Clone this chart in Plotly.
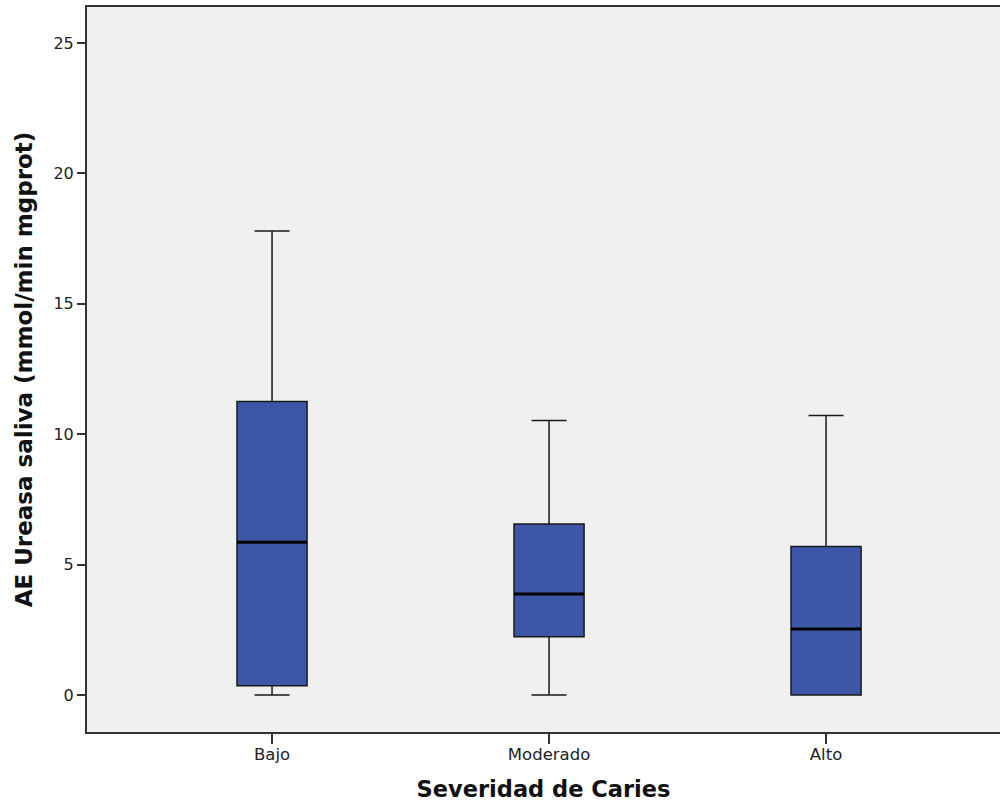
import plotly.graph_objects as go

# Summary statistics per caries severity group
categorias = ["Bajo", "Moderado", "Alto"]
minimo = [0.0, 0.0, 0.0]
q1 = [0.35, 2.23, 0.0]
mediana = [5.86, 3.87, 2.53]
q3 = [11.25, 6.56, 5.69]
maximo = [17.79, 10.52, 10.72]

y_ticks = [0, 5, 10, 15, 20, 25]

posiciones = list(range(len(categorias)))
ancho_caja = 0.253

fig = go.Figure()

fig.add_trace(go.Box(
    x=posiciones,
    q1=q1,
    median=mediana,
    q3=q3,
    lowerfence=minimo,
    upperfence=maximo,
    width=ancho_caja,
    whiskerwidth=0.5,
    fillcolor="rgb(61,86,168)",
    line=dict(color="#1a1a1a", width=1.5),
    boxpoints=False,
    hoverinfo="skip",
    showlegend=False,
))

# Thicker median bars, drawn over each box
xs, ys = [], []
for p, m in zip(posiciones, mediana):
    xs += [p - ancho_caja / 2, p + ancho_caja / 2, None]
    ys += [m, m, None]
fig.add_trace(go.Scatter(
    x=xs, y=ys, mode="lines",
    line=dict(color="black", width=3),
    hoverinfo="skip", showlegend=False,
))

fig.update_layout(
    width=1000, height=805,
    margin=dict(l=87, r=0, t=7, b=73),
    paper_bgcolor="white",
    plot_bgcolor="rgb(240,240,240)",
    font=dict(family="DejaVu Sans", color="#222"),
    xaxis=dict(
        range=[-0.668, 2.628],
        tickvals=posiciones,
        ticktext=categorias,
        tickfont=dict(size=16.5, color="#222"),
        ticks="outside", ticklen=10, tickwidth=2, tickcolor="#333",
        ticklabelstandoff=-4,
        showline=True, linecolor="#333", linewidth=2, mirror=True,
        showgrid=False, zeroline=False,
        title=dict(text="<b>Severidad de Caries</b>",
                   font=dict(size=22.5, color="#111"), standoff=18),
    ),
    yaxis=dict(
        range=[-1.42, 26.38],
        tickvals=y_ticks,
        tickfont=dict(size=16, color="#222"),
        ticks="outside", ticklen=8, tickwidth=2, tickcolor="#333",
        showline=True, linecolor="#333", linewidth=2, mirror=False,
        showgrid=False, zeroline=False,
        title=dict(text="<b>AE Ureasa saliva (mmol/min mgprot)</b>",
                   font=dict(size=23, color="#111"), standoff=14),
    ),
)

fig.write_html("out.html")
